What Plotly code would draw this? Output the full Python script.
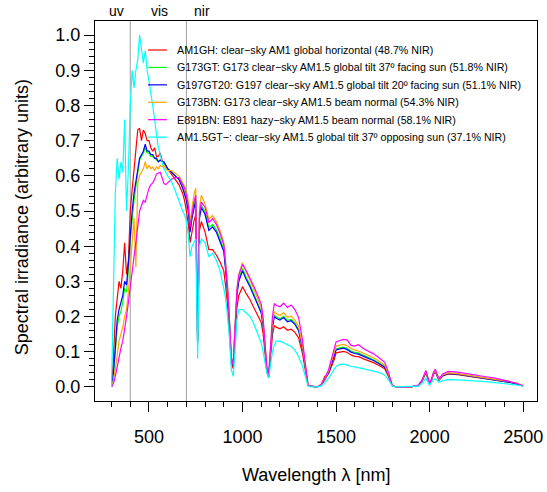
import plotly.graph_objects as go

# ---------------- data ----------------
wavelength = [
    300, 310, 320, 330, 340, 350, 360, 370, 380, 390, 400, 410, 420, 430, 440, 450,
    460, 470, 480, 490, 500, 510, 520, 530, 540, 550, 560, 570, 580, 590, 600,
    620, 640, 660, 680, 690, 700, 710, 720, 730, 740, 750, 760, 770, 780, 800, 820,
    840, 860, 880, 900, 910, 920, 930, 940, 950, 960, 970, 980, 1000,
    1020, 1040, 1060, 1080, 1100, 1110, 1120, 1130, 1140, 1150, 1160, 1170, 1180,
    1200, 1220, 1240, 1260, 1280, 1300, 1320, 1340, 1350,
    1360, 1380, 1400, 1420, 1440, 1460, 1480, 1490, 1500, 1520, 1540, 1560, 1580,
    1600, 1620, 1650, 1680, 1700, 1730, 1760, 1780, 1800,
    1820, 1850, 1900, 1940, 1960, 1980, 1990, 2000, 2010, 2020, 2030, 2040, 2050,
    2070, 2090, 2100, 2150, 2200, 2250, 2300, 2350, 2400, 2420, 2440, 2460, 2480, 2500,
]

am1gh = [
    0.0, 0.08, 0.20, 0.26, 0.30, 0.28, 0.33, 0.41, 0.32, 0.36, 0.50, 0.56, 0.62, 0.68, 0.73, 0.735,
    0.70, 0.73, 0.72, 0.70, 0.70, 0.68, 0.67, 0.68, 0.655, 0.655, 0.665, 0.645, 0.635, 0.63, 0.62,
    0.605, 0.59, 0.575, 0.55, 0.53, 0.50, 0.465, 0.41, 0.445, 0.47, 0.49, 0.12, 0.445, 0.47, 0.44, 0.39,
    0.39, 0.375, 0.355, 0.33, 0.285, 0.232, 0.155, 0.07, 0.052, 0.13, 0.225, 0.26, 0.285,
    0.265, 0.248, 0.226, 0.205, 0.183, 0.152, 0.087, 0.044, 0.026, 0.087, 0.148, 0.174, 0.17,
    0.165, 0.171, 0.161, 0.164, 0.155, 0.139, 0.096, 0.03, 0.004,
    0.002, 0.0, 0.0, 0.006, 0.03, 0.037, 0.064, 0.078, 0.097, 0.099, 0.101, 0.098, 0.091,
    0.087, 0.086, 0.079, 0.074, 0.069, 0.061, 0.052, 0.03, 0.004,
    0.0, 0.0, 0.0, 0.004, 0.017, 0.041, 0.024, 0.008, 0.019, 0.035, 0.043, 0.029, 0.019,
    0.031, 0.036, 0.037, 0.035, 0.031, 0.027, 0.024, 0.02, 0.016, 0.014, 0.012, 0.009, 0.006, 0.003,
]

g173gt = [
    0.0, 0.035, 0.10, 0.17, 0.20, 0.215, 0.24, 0.28, 0.27, 0.33, 0.42, 0.48, 0.53, 0.57, 0.61, 0.645,
    0.655, 0.665, 0.68, 0.665, 0.665, 0.655, 0.655, 0.65, 0.645, 0.64, 0.645, 0.64, 0.64, 0.63, 0.62,
    0.61, 0.60, 0.59, 0.567, 0.553, 0.533, 0.505, 0.445, 0.487, 0.517, 0.537, 0.13, 0.487, 0.517, 0.497, 0.452,
    0.462, 0.447, 0.422, 0.39, 0.336, 0.275, 0.183, 0.08, 0.06, 0.153, 0.265, 0.306, 0.337,
    0.311, 0.291, 0.265, 0.24, 0.214, 0.179, 0.102, 0.05, 0.03, 0.102, 0.173, 0.204, 0.199,
    0.194, 0.201, 0.189, 0.192, 0.182, 0.163, 0.112, 0.036, 0.005,
    0.002, 0.0, 0.0, 0.006, 0.021, 0.041, 0.072, 0.088, 0.108, 0.111, 0.113, 0.109, 0.102,
    0.098, 0.096, 0.089, 0.082, 0.077, 0.068, 0.058, 0.034, 0.004,
    0.0, 0.0, 0.0, 0.004, 0.018, 0.043, 0.026, 0.008, 0.02, 0.037, 0.045, 0.031, 0.02,
    0.033, 0.038, 0.039, 0.037, 0.033, 0.029, 0.026, 0.021, 0.016, 0.014, 0.012, 0.009, 0.006, 0.003,
]

g197gt20 = [
    0.0, 0.04, 0.11, 0.19, 0.22, 0.24, 0.26, 0.30, 0.29, 0.35, 0.44, 0.50, 0.55, 0.58, 0.62, 0.65,
    0.66, 0.67, 0.69, 0.67, 0.67, 0.66, 0.66, 0.65, 0.65, 0.64, 0.645, 0.64, 0.64, 0.63, 0.62,
    0.61, 0.60, 0.59, 0.565, 0.55, 0.53, 0.50, 0.44, 0.48, 0.51, 0.53, 0.13, 0.48, 0.51, 0.49, 0.445,
    0.455, 0.44, 0.415, 0.385, 0.33, 0.27, 0.18, 0.08, 0.06, 0.15, 0.26, 0.30, 0.33,
    0.305, 0.285, 0.26, 0.235, 0.21, 0.175, 0.10, 0.05, 0.03, 0.10, 0.17, 0.20, 0.195,
    0.19, 0.197, 0.185, 0.188, 0.178, 0.16, 0.11, 0.035, 0.005,
    0.002, 0.0, 0.0, 0.006, 0.02, 0.04, 0.07, 0.085, 0.105, 0.108, 0.11, 0.106, 0.099,
    0.095, 0.093, 0.086, 0.08, 0.075, 0.066, 0.056, 0.033, 0.004,
    0.0, 0.0, 0.0, 0.004, 0.018, 0.042, 0.025, 0.008, 0.02, 0.036, 0.044, 0.03, 0.02,
    0.032, 0.037, 0.038, 0.036, 0.032, 0.028, 0.025, 0.021, 0.016, 0.014, 0.012, 0.009, 0.006, 0.003,
]

g173bn = [
    0.0, 0.02, 0.05, 0.09, 0.13, 0.15, 0.17, 0.20, 0.22, 0.27, 0.35, 0.42, 0.48, 0.34, 0.58, 0.60,
    0.61, 0.62, 0.64, 0.62, 0.63, 0.62, 0.625, 0.615, 0.625, 0.62, 0.63, 0.625, 0.63, 0.62, 0.615,
    0.615, 0.607, 0.60, 0.58, 0.57, 0.555, 0.53, 0.47, 0.51, 0.545, 0.565, 0.14, 0.51, 0.545, 0.52, 0.476,
    0.487, 0.47, 0.444, 0.41, 0.353, 0.289, 0.193, 0.086, 0.064, 0.16, 0.278, 0.32, 0.353,
    0.326, 0.305, 0.278, 0.251, 0.225, 0.187, 0.107, 0.054, 0.032, 0.107, 0.182, 0.214, 0.209,
    0.203, 0.211, 0.198, 0.201, 0.19, 0.171, 0.118, 0.037, 0.005,
    0.002, 0.0, 0.0, 0.007, 0.022, 0.044, 0.077, 0.094, 0.116, 0.119, 0.121, 0.117, 0.109,
    0.105, 0.102, 0.095, 0.088, 0.083, 0.073, 0.062, 0.036, 0.004,
    0.0, 0.0, 0.0, 0.004, 0.019, 0.044, 0.026, 0.008, 0.021, 0.038, 0.046, 0.032, 0.021,
    0.034, 0.039, 0.04, 0.038, 0.034, 0.029, 0.026, 0.022, 0.017, 0.018, 0.013, 0.012, 0.007, 0.003,
]

e891bn = [
    0.0, 0.01, 0.03, 0.06, 0.09, 0.11, 0.13, 0.16, 0.20, 0.24, 0.29, 0.33, 0.37, 0.41, 0.45, 0.50,
    0.515, 0.53, 0.525, 0.55, 0.565, 0.575, 0.58, 0.59, 0.605, 0.608, 0.61, 0.595, 0.578, 0.575, 0.58,
    0.59, 0.595, 0.595, 0.575, 0.565, 0.545, 0.515, 0.455, 0.495, 0.525, 0.545, 0.14, 0.495, 0.525, 0.51, 0.467,
    0.478, 0.462, 0.436, 0.404, 0.347, 0.284, 0.19, 0.084, 0.063, 0.158, 0.275, 0.318, 0.348,
    0.33, 0.31, 0.286, 0.261, 0.235, 0.197, 0.113, 0.057, 0.034, 0.118, 0.2, 0.236, 0.232,
    0.228, 0.238, 0.226, 0.233, 0.22, 0.197, 0.135, 0.043, 0.006,
    0.002, 0.0, 0.0, 0.007, 0.024, 0.049, 0.085, 0.104, 0.128, 0.132, 0.135, 0.133, 0.118,
    0.116, 0.12, 0.108, 0.1, 0.094, 0.083, 0.07, 0.042, 0.005,
    0.0, 0.0, 0.0, 0.005, 0.02, 0.047, 0.028, 0.009, 0.023, 0.041, 0.05, 0.034, 0.023,
    0.037, 0.043, 0.044, 0.042, 0.037, 0.033, 0.029, 0.025, 0.019, 0.017, 0.014, 0.011, 0.007, 0.004,
]

am15gt_opp = [
    0.0, 0.25, 0.55, 0.65, 0.59, 0.64, 0.61, 0.76, 0.50, 0.62, 0.80, 0.90, 0.85, 0.90, 0.93, 1.0,
    0.96, 0.92, 0.955, 0.90, 0.87, 0.84, 0.80, 0.76, 0.71, 0.68, 0.66, 0.635, 0.62, 0.61, 0.60,
    0.585, 0.56, 0.53, 0.50, 0.49, 0.47, 0.43, 0.37, 0.40, 0.41, 0.42, 0.08, 0.40, 0.42, 0.41, 0.37,
    0.38, 0.36, 0.33, 0.28, 0.25, 0.20, 0.14, 0.05, 0.03, 0.10, 0.19, 0.22, 0.22,
    0.21, 0.20, 0.18, 0.155, 0.125, 0.10, 0.07, 0.04, 0.025, 0.06, 0.10, 0.12, 0.13,
    0.13, 0.125, 0.12, 0.115, 0.105, 0.085, 0.06, 0.02, 0.003,
    0.001, 0.0, 0.0, 0.003, 0.012, 0.025, 0.04, 0.05, 0.058, 0.064, 0.065, 0.062, 0.058,
    0.057, 0.055, 0.051, 0.047, 0.045, 0.041, 0.034, 0.02, 0.003,
    0.0, 0.0, 0.0, 0.002, 0.01, 0.025, 0.015, 0.005, 0.012, 0.02, 0.024, 0.018, 0.013,
    0.018, 0.02, 0.021, 0.02, 0.019, 0.017, 0.015, 0.012, 0.01, 0.009, 0.008, 0.006, 0.004, 0.002,
]

series_names = [
    "AM1GH: clear\u2212sky AM1 global horizontal (48.7% NIR)",
    "G173GT: G173 clear\u2212sky AM1.5 global tilt 37\u00ba facing sun (51.8% NIR)",
    "G197GT20: G197 clear\u2212sky AM1.5 global tilt 20\u00ba facing sun (51.1% NIR)",
    "G173BN: G173 clear\u2212sky AM1.5 beam normal (54.3% NIR)",
    "E891BN: E891 hazy\u2212sky AM1.5 beam normal (58.1% NIR)",
    "AM1.5GT\u2212: clear\u2212sky AM1.5 global tilt 37\u00ba opposing sun (37.1% NIR)",
]
series_values = [am1gh, g173gt, g197gt20, g173bn, e891bn, am15gt_opp]
series_colors = ["#FF0000", "#00FF00", "#0000FF", "#FFA500", "#FF00FF", "#00FFFF"]

band_edges = [400, 700]
band_labels = ["uv", "vis", "nir"]
band_label_pos = [327, 554, 782]

x_ticks = [500, 1000, 1500, 2000, 2500]
y_ticks = [0.0, 0.1, 0.2, 0.3, 0.4, 0.5, 0.6, 0.7, 0.8, 0.9, 1.0]
y_minor = [round(0.02 * i, 2) for i in range(51)]

for v in series_values:
    assert len(v) == len(wavelength), len(v)

# ---------------- layout geometry (pixels) ----------------
W, H = 547, 492
L, R, T, B = 95, 537, 21, 400.7
pw, ph = R - L, B - T

def px_x(p):
    return (p - L) / pw

def px_y(p):
    return (B - p) / ph

FONT = "Liberation Sans, Arial, Helvetica, sans-serif"
BASE = 18

fig = go.Figure()
for name, vals, col in zip(series_names, series_values, series_colors):
    fig.add_trace(go.Scatter(x=wavelength, y=vals, mode="lines", name=name,
                             line=dict(color=col, width=1.2), showlegend=False))

for e in band_edges:
    fig.add_vline(x=e, line=dict(color="#A0A0A0", width=1), layer="below")

for lab, pos in zip(band_labels, band_label_pos):
    fig.add_annotation(x=pos, xref="x", y=1.0, yref="paper", text=lab, showarrow=False,
                       xanchor="center", yanchor="bottom", yshift=0,
                       font=dict(size=14, color="black", family=FONT))

# manual legend (no box)
leg_rows = [50.0, 67.4, 84.8, 102.2, 119.6, 137.0]
for name, col, py in zip(series_names, series_colors, leg_rows):
    fig.add_shape(type="line", xref="paper", yref="paper",
                  x0=px_x(148), x1=px_x(167), y0=px_y(py), y1=px_y(py),
                  line=dict(color=col, width=1.2))
    fig.add_annotation(x=px_x(175), y=px_y(py), xref="paper", yref="paper", text=name,
                       showarrow=False, xanchor="left", yanchor="middle",
                       font=dict(size=10.7, color="black", family=FONT))

# axis titles
fig.add_annotation(x=0.5, y=px_y(475), xref="paper", yref="paper",
                   text="Wavelength \u03bb [nm]", showarrow=False,
                   xanchor="center", yanchor="middle",
                   font=dict(size=BASE, color="black", family=FONT))
fig.add_annotation(x=px_x(22), y=px_y(217), xref="paper", yref="paper",
                   text="Spectral irradiance (arbitrary units)", showarrow=False,
                   textangle=-90, xanchor="center", yanchor="middle",
                   font=dict(size=BASE, color="black", family=FONT))

fig.update_layout(
    width=W, height=H,
    margin=dict(l=L, r=W - R, t=T, b=H - B, pad=0, autoexpand=False),
    paper_bgcolor="white", plot_bgcolor="white",
    font=dict(family=FONT, size=BASE, color="black"),
    xaxis=dict(range=[211.5, 2574], tickvals=x_ticks, showgrid=False, zeroline=False,
               automargin=False,
               showline=True, mirror=True, linecolor="black", linewidth=1,
               ticks="outside", ticklen=10, tickwidth=1, tickcolor="black",
               ticklabelstandoff=9,
               tickfont=dict(size=BASE, family=FONT, color="black"),
               minor=dict(dtick=100, tick0=0, ticks="outside", ticklen=5,
                          tickwidth=1, tickcolor="black", showgrid=False)),
    yaxis=dict(range=[-0.04, 1.04], tickvals=y_ticks, tickformat=".1f", showgrid=False,
               automargin=False,
               zeroline=False, showline=True, mirror=True, linecolor="black", linewidth=1,
               ticks="outside", ticklen=10, tickwidth=1, tickcolor="black",
               ticklabelstandoff=0,
               tickfont=dict(size=BASE, family=FONT, color="black"),
               minor=dict(tickvals=y_minor, ticks="outside", ticklen=5,
                          tickwidth=1, tickcolor="black", showgrid=False)),
)

fig.write_html("out.html", config={"displayModeBar": False},
               post_script="document.body.style.margin='0px';document.body.style.overflow='hidden';")
